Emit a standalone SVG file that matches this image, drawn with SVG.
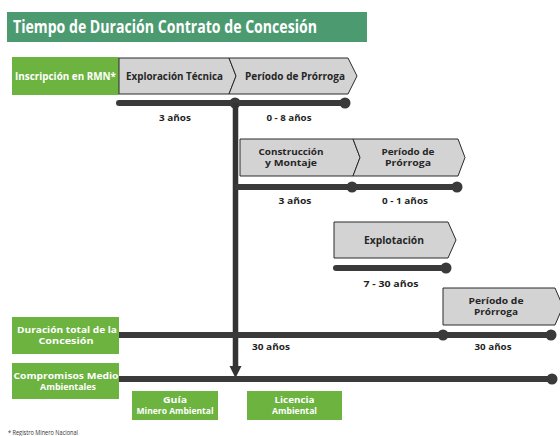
<svg xmlns="http://www.w3.org/2000/svg" width="560" height="436" viewBox="0 0 560 436">
<style>
text{font-family:"Open Sans","DejaVu Sans",sans-serif;font-weight:bold;text-anchor:middle}
.g{fill:#6cb33f}
.w{fill:#fff;font-size:10px}
.w2{fill:#fff;font-size:9.5px}
.k{fill:#262626;font-size:10px}
.k2{fill:#262626;font-size:9.5px}
.lb{fill:#1f1f1f;font-size:9.5px}
.ch{fill:#d3d3d3;stroke:#2a2a2a;stroke-width:1}
.tl{stroke:#3a3a3a;stroke-width:6;fill:none}
.dot{fill:#3a3a3a}
</style>
<rect width="560" height="436" fill="#fff"/>
<g id="title">
<rect x="7" y="12" width="360" height="30" fill="#4c9a70"/>
<text x="13" y="33" style="text-anchor:start;font-size:17px;fill:#fff" textLength="304" lengthAdjust="spacingAndGlyphs">Tiempo de Duración Contrato de Concesión</text>
</g>
<g id="connectors">
<line class="tl" x1="119" y1="103" x2="345" y2="103" stroke-linecap="round"/>
<circle class="dot" cx="235" cy="103" r="5.5"/>
<circle class="dot" cx="345" cy="103" r="5.5"/>
<line x1="235.5" y1="103" x2="235.5" y2="368" stroke="#333" stroke-width="5.5"/>
<polygon points="229.5,366 241.5,366 235.5,378" fill="#333"/>
<line class="tl" x1="235" y1="187" x2="457" y2="187"/>
<circle class="dot" cx="352" cy="187" r="5.5"/>
<circle class="dot" cx="457" cy="187" r="5.5"/>
<line class="tl" x1="336" y1="268" x2="446" y2="268" stroke-linecap="round"/>
<circle class="dot" cx="446" cy="268" r="5.5"/>
<line class="tl" x1="119" y1="335" x2="551" y2="335"/>
<circle class="dot" cx="443" cy="335" r="5.5"/>
<circle class="dot" cx="551" cy="335" r="5.5"/>
<line class="tl" x1="119" y1="379" x2="552" y2="379"/>
<circle class="dot" cx="552" cy="379" r="5.5"/>
</g>
<g id="inscripcion">
<rect class="g" x="12" y="57" width="107" height="38"/>
<text class="w" x="65.5" y="79.5" textLength="101" lengthAdjust="spacingAndGlyphs">Inscripción en RMN*</text>
</g>
<g id="exploracion">
<path class="ch" d="M119,58 L229,58 L236,76 L229,94 L119,94 Z"/>
<text class="k" x="174.5" y="79.5" textLength="97" lengthAdjust="spacingAndGlyphs">Exploración Técnica</text>
</g>
<g id="prorroga1">
<path class="ch" d="M229,58 L348,58 L357,76 L348,94 L229,94 L236,76 Z"/>
<text class="k" x="295" y="79.5" textLength="100" lengthAdjust="spacingAndGlyphs">Período de Prórroga</text>
</g>
<g id="labels1">
<text class="lb" x="175" y="120.5" textLength="32" lengthAdjust="spacingAndGlyphs">3 años</text>
<text class="lb" x="289" y="120.5" textLength="45" lengthAdjust="spacingAndGlyphs">0 - 8 años</text>
</g>
<g id="construccion">
<path class="ch" d="M240,139 L353,139 L360,157.5 L353,176 L240,176 Z"/>
<text class="k2" x="291" y="155.3" textLength="65" lengthAdjust="spacingAndGlyphs">Construcción</text>
<text class="k2" x="291" y="166.3" textLength="52" lengthAdjust="spacingAndGlyphs">y Montaje</text>
</g>
<g id="prorroga2">
<path class="ch" d="M353,139 L458,139 L465,157.5 L458,176 L353,176 L360,157.5 Z"/>
<text class="k2" x="408" y="155.3" textLength="53" lengthAdjust="spacingAndGlyphs">Período de</text>
<text class="k2" x="408" y="166.3" textLength="46" lengthAdjust="spacingAndGlyphs">Prórroga</text>
</g>
<g id="labels2">
<text class="lb" x="295" y="204" textLength="33" lengthAdjust="spacingAndGlyphs">3 años</text>
<text class="lb" x="405" y="204" textLength="46" lengthAdjust="spacingAndGlyphs">0 - 1 años</text>
</g>
<g id="explotacion">
<path class="ch" d="M334,222 L448,222 L456,240 L448,258 L334,258 Z"/>
<text class="k" x="394" y="243.5" textLength="60" lengthAdjust="spacingAndGlyphs">Explotación</text>
<text class="lb" x="391" y="287" textLength="55" lengthAdjust="spacingAndGlyphs">7 - 30 años</text>
</g>
<g id="prorroga3">
<path class="ch" d="M443,288 L555,288 L563,306.5 L555,325 L443,325 Z"/>
<text class="k2" x="496" y="304.3" textLength="55" lengthAdjust="spacingAndGlyphs">Período de</text>
<text class="k2" x="496" y="315.3" textLength="44" lengthAdjust="spacingAndGlyphs">Prórroga</text>
<text class="lb" x="493" y="349.5" textLength="37" lengthAdjust="spacingAndGlyphs">30 años</text>
</g>
<g id="duracion">
<rect class="g" x="12" y="317" width="107" height="37"/>
<text class="w2" x="67" y="333.3" textLength="100" lengthAdjust="spacingAndGlyphs">Duración total de la</text>
<text class="w2" x="66" y="344.3" textLength="55" lengthAdjust="spacingAndGlyphs">Concesión</text>
<text class="lb" x="271" y="349.5" textLength="38" lengthAdjust="spacingAndGlyphs">30 años</text>
</g>
<g id="compromisos">
<rect class="g" x="12" y="363" width="107" height="36"/>
<text class="w2" x="66" y="378.8" textLength="105" lengthAdjust="spacingAndGlyphs">Compromisos Medio</text>
<text class="w2" x="68" y="389.8" textLength="56" lengthAdjust="spacingAndGlyphs">Ambientales</text>
</g>
<g id="guia">
<rect class="g" x="132" y="391" width="86" height="29"/>
<text class="w2" x="175" y="403.3" textLength="24" lengthAdjust="spacingAndGlyphs">Guía</text>
<text class="w2" x="175" y="414.3" textLength="77" lengthAdjust="spacingAndGlyphs">Minero Ambiental</text>
</g>
<g id="licencia">
<rect class="g" x="247" y="391" width="95" height="29"/>
<text class="w2" x="294.5" y="403.3" textLength="40" lengthAdjust="spacingAndGlyphs">Licencia</text>
<text class="w2" x="294.5" y="414.3" textLength="45" lengthAdjust="spacingAndGlyphs">Ambiental</text>
</g>
<g id="footnote">
<text x="8" y="435" style="text-anchor:start;font-weight:normal;font-size:6.5px;fill:#333" textLength="70" lengthAdjust="spacingAndGlyphs">* Registro Minero Nacional</text>
</g>
</svg>
